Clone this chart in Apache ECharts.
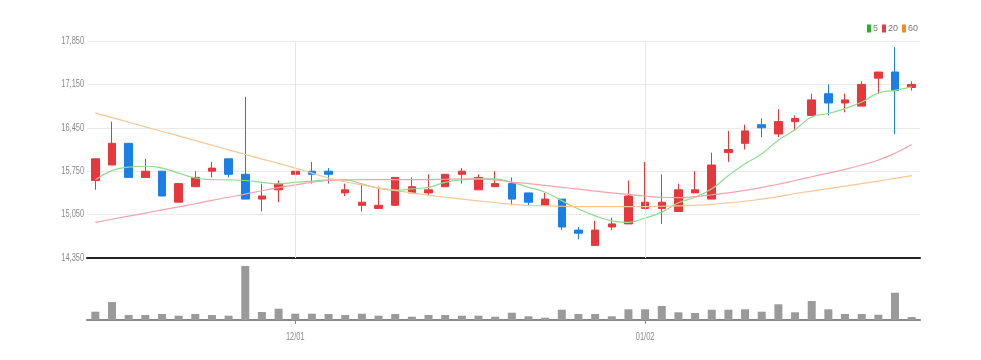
<!DOCTYPE html>
<html><head><meta charset="utf-8">
<script src="https://cdn.jsdelivr.net/npm/echarts@6/dist/echarts.min.js"></script>
<style>html,body{margin:0;padding:0;background:#fff}#c{width:981px;height:360px}</style>
</head><body><div id="c"></div>
<script>
const dates = ['11/15','11/16','11/17','11/18','11/21','11/22','11/23','11/24','11/25','11/28',
  '11/29','11/30','12/01','12/02','12/05','12/06','12/07','12/08','12/09','12/12',
  '12/13','12/14','12/15','12/16','12/19','12/20','12/21','12/22','12/23','12/26',
  '12/27','12/28','12/29','01/02','01/03','01/04','01/05','01/06','01/09','01/10',
  '01/11','01/12','01/13','01/16','01/17','01/18','01/19','01/20','01/25','01/26'];
const opens  = [15600,15850,16200,15650,15750,15250,15500,15750,15950,15700,
  15300,15450,15700,15750,15750,15400,15200,15150,15200,15400,
  15400,15500,15700,15450,15500,15550,15400,15200,15300,14800,
  14550,14850,14900,15150,15150,15100,15400,15300,16050,16200,
  16500,16350,16550,16650,17000,16850,16800,17250,17350,17100];
const closes = [15950,16200,15650,15750,15350,15550,15650,15800,15700,15300,
  15350,15550,15750,15700,15700,15450,15250,15200,15650,15500,
  15450,15700,15750,15650,15550,15300,15250,15300,14850,14750,
  14800,14900,15350,15250,15250,15450,15450,15850,16100,16400,
  16450,16550,16600,16900,16850,16900,17150,17350,17050,17150];
const lows   = [15450,15850,15650,15650,15350,15250,15500,15650,15650,15300,
  15100,15250,15650,15550,15550,15350,15100,15150,15200,15400,
  15350,15500,15550,15450,15500,15200,15200,15200,14800,14650,
  14550,14800,14900,15150,14900,15100,15400,15300,15900,16100,
  16300,16300,16400,16650,16650,16700,16800,17000,16350,17050];
const highs  = [15950,16550,16200,15950,15750,15550,15750,15900,15950,16950,
  15550,15600,15850,15900,15800,15550,15550,15500,15650,15650,
  15700,15700,15800,15700,15750,15650,15400,15400,15300,14850,
  14950,15000,15600,15900,15700,15550,15750,16050,16400,16500,
  16600,16750,16650,17000,17150,17000,17200,17350,17750,17200];
const volumes = [83,180,50,50,60,43,60,50,43,540,
  80,113,63,63,60,50,63,43,60,33,
  50,50,43,43,33,73,37,23,103,60,
  60,37,107,107,140,77,70,103,103,107,
  83,157,77,190,107,60,60,53,273,30];
const ma5  = [15610,15760,15815,15830,15800,15720,15640,15615,15610,15600,
  15570,15545,15570,15590,15610,15610,15545,15475,15445,15465,
  15490,15570,15610,15625,15625,15570,15490,15410,15275,15140,
  15030,14950,14925,14995,15090,15240,15330,15465,15680,15870,
  16030,16250,16420,16625,16680,16760,16865,17010,17055,17110];
const ma20 = [14925,14975,15025,15075,15125,15175,15225,15280,15330,15380,
  15435,15485,15530,15570,15600,15610,15615,15615,15615,15615,
  15615,15620,15625,15625,15610,15575,15550,15520,15490,15460,
  15430,15400,15375,15350,15330,15325,15340,15370,15400,15440,
  15490,15540,15600,15660,15720,15780,15850,15930,16040,16180];
const ma60 = [16690,16615,16540,16465,16390,16320,16245,16170,16095,16020,
  15945,15875,15800,15720,15640,15580,15530,15480,15440,15400,
  15360,15330,15300,15270,15245,15215,15200,15190,15185,15180,
  15180,15180,15180,15180,15185,15190,15200,15215,15240,15265,
  15300,15340,15390,15430,15470,15510,15550,15590,15635,15680];
const maNames = ['5','20','60'];
const markDates = ['12/01','01/02'];
const yTicks = [14350, 15050, 15750, 16450, 17150, 17850];

const FONT = '10px "Liberation Sans", Arial, sans-serif';
const SQUEEZE = 0.74;
const candles = dates.map((d, i) => [opens[i], closes[i], lows[i], highs[i]]);
const volData = volumes.map(v => v * 1000);
const showIdx = (i) => markDates.indexOf(dates[i]) >= 0;

const chart = echarts.init(document.getElementById('c'), null, {renderer: 'canvas'});
chart.setOption({
  animation: false,
  backgroundColor: '#fff',
  legend: {
    data: maNames, right: 58, top: 19, icon: 'rect', itemWidth: 4, itemHeight: 8, itemGap: 4,
    textStyle: {fontSize: 9, color: '#777', fontFamily: 'Liberation Sans', padding: [0,0,0,-3]}
  },
  grid: [
    {left: 87, right: 61, top: 41, height: 217},
    {left: 87, right: 61, top: 262, height: 58}
  ],
  xAxis: [
    {type: 'category', gridIndex: 0, data: dates, boundaryGap: true,
     axisLine: {show: true, lineStyle: {color: '#222', width: 2}},
     axisTick: {show: false}, axisLabel: {show: false}, splitLine: {show: false}},
    {type: 'category', gridIndex: 1, data: dates, boundaryGap: true,
     axisLine: {show: true, lineStyle: {color: '#888', width: 2}},
     axisTick: {show: true, alignWithLabel: true, interval: (i) => showIdx(i), length: 4, lineStyle: {color: '#888'}},
     axisLabel: {show: false},
     splitLine: {show: false}}
  ],
  yAxis: [
    {type: 'value', gridIndex: 0, min: yTicks[0], max: yTicks[yTicks.length - 1],
     interval: yTicks[1] - yTicks[0], position: 'left',
     axisLine: {show: false}, axisTick: {show: false}, axisLabel: {show: false},
     splitLine: {show: true, lineStyle: {color: '#ebebeb', width: 1}}},
    {type: 'value', gridIndex: 1, min: 0, max: 580000,
     axisLine: {show: false}, axisTick: {show: false}, axisLabel: {show: false}, splitLine: {show: false}}
  ],
  series: [
    {type: 'candlestick', name: 'price', xAxisIndex: 0, yAxisIndex: 0, data: candles, barWidth: 8,
     itemStyle: {color: '#e5383d', color0: '#1b7fe6', borderColor: '#e5383d', borderColor0: '#1b7fe6', borderWidth: 1},
     markLine: {silent: true, symbol: ['none','none'], label: {show: false},
       lineStyle: {color: '#e6e6e6', type: 'solid', width: 1},
       data: markDates.map(d => ({xAxis: d}))}},
    {type: 'line', name: maNames[0], data: ma5, smooth: true, showSymbol: false,
     itemStyle: {color: '#22b422'}, lineStyle: {color: '#8fdc8f', width: 1.2}},
    {type: 'line', name: maNames[1], data: ma20, smooth: true, showSymbol: false,
     itemStyle: {color: '#e83c44'}, lineStyle: {color: '#f5a3a8', width: 1.2}},
    {type: 'line', name: maNames[2], data: ma60, smooth: true, showSymbol: false,
     itemStyle: {color: '#f08a24'}, lineStyle: {color: '#f8c697', width: 1.2}},
    {type: 'bar', name: 'volume', xAxisIndex: 1, yAxisIndex: 1, data: volData, barWidth: 8,
     itemStyle: {color: '#9a9a9a'}}
  ]
});

// Axis labels as real text, placed through the library's own scales, squeezed horizontally
const labelEls = [];
yTicks.forEach(v => {
  const py = chart.convertToPixel({yAxisIndex: 0}, v);
  labelEls.push({type: 'text', x: 84, y: py, scaleX: SQUEEZE, silent: true,
    style: {text: v.toLocaleString('en-US'), fill: '#888', font: FONT, align: 'right', verticalAlign: 'middle'}});
});
markDates.forEach(d => {
  const px = chart.convertToPixel({xAxisIndex: 1}, d);
  labelEls.push({type: 'text', x: px, y: 337, scaleX: SQUEEZE, silent: true,
    style: {text: d, fill: '#888', font: FONT, align: 'center', verticalAlign: 'middle'}});
});
chart.setOption({graphic: {elements: labelEls}});
</script></body></html>
